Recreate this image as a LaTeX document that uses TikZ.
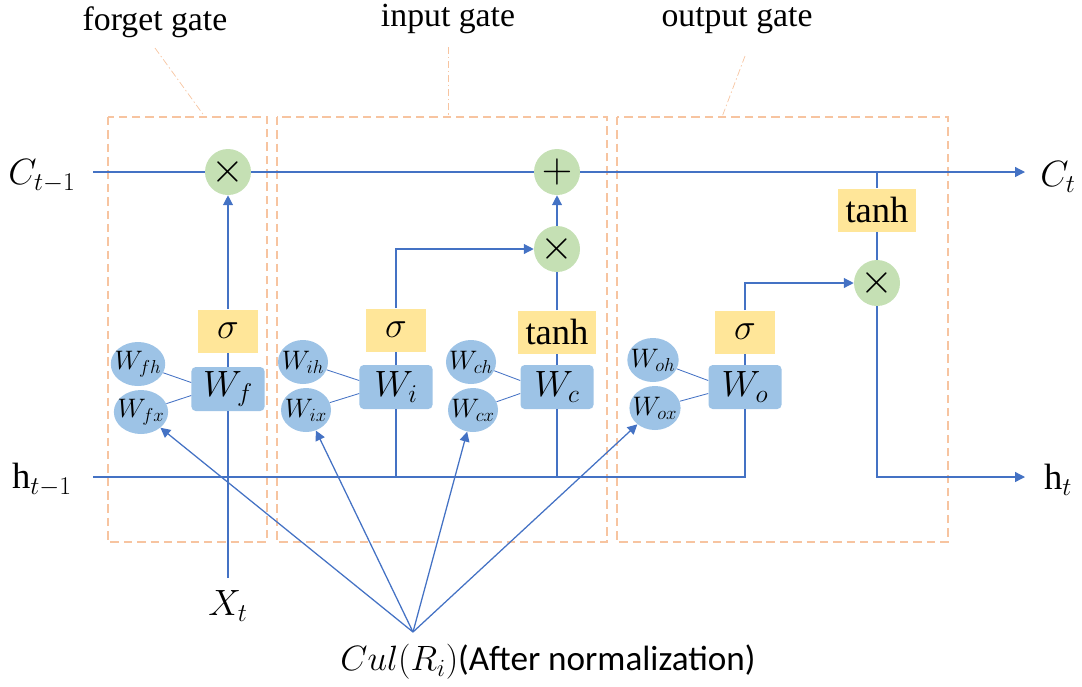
\RequirePackage{fix-cm}
\documentclass[tikz,border=0pt]{standalone}
\usepackage{fontspec}
\setmainfont{Liberation Serif}
\newfontfamily\calibrifont{Carlito}
\usetikzlibrary{arrows.meta,shapes.geometric}
\definecolor{lineblue}{HTML}{4472C4}
\definecolor{gatepeach}{HTML}{F7C4A0}
\definecolor{opgreen}{HTML}{C5E0B4}
\definecolor{actyellow}{HTML}{FFE699}
\definecolor{wblue}{HTML}{9DC3E6}
\tikzset{
  wire/.style={draw=lineblue,line width=0.9pt},
  thinwire/.style={draw=lineblue,line width=0.6pt},
  flow/.style={wire,-{Triangle[length=7pt,width=7pt]}},
  gatebox/.style={draw=gatepeach,line width=1.6pt,dash pattern=on 6pt off 3.5pt},
  leader/.style={draw=gatepeach,line width=0.5pt,dash pattern=on 5pt off 2pt on 1pt off 2pt},
  op/.style={circle,fill=opgreen,inner sep=0pt,minimum size=1.15cm,font=\fontsize{30}{32}\selectfont},
  act/.style={fill=actyellow,inner sep=0pt,minimum width=1.5cm,minimum height=1.075cm,font=\fontsize{26}{28}\selectfont},
  widact/.style={act,minimum width=1.95cm,font=\fontsize{26}{28}\selectfont},
  wbox/.style={fill=wblue,rounded corners=3pt,inner sep=0pt,minimum width=1.825cm,minimum height=1.1cm,font=\fontsize{26}{28}\selectfont},
  wcell/.style={ellipse,fill=wblue,inner sep=-3pt,minimum width=1.25cm,minimum height=1.1cm,font=\fontsize{19}{21}\selectfont},
  lbl/.style={inner sep=1pt,font=\fontsize{24}{28}\selectfont}
}
\begin{document}
\begin{tikzpicture}[x=0.025cm,y=-0.025cm]
    \useasboundingbox (0,0) rectangle (1082,686);
    % gate frames and their captions
    \draw [gatebox] (108,117) rectangle (267,542);
    \draw [gatebox] (277,117) rectangle (607,542);
    \draw [gatebox] (617,117) rectangle (948,542);
    \node [lbl] (fgname) at (155,22) {forget gate};
    \node [lbl] (igname) at (448,19) {input gate};
    \node [lbl] (ogname) at (737,21) {output gate};
    \coordinate (fglead) at (155,48);
    \coordinate (fgtop) at (205,117);
    \coordinate (iglead) at (448,47);
    \coordinate (igtop) at (448,117);
    \coordinate (oglead) at (745,56);
    \coordinate (ogtop) at (722,117);
    \draw [leader] (fglead) -- (fgtop);
    \draw [leader] (iglead) -- (igtop);
    \draw [leader] (oglead) -- (ogtop);
    % states in and out
    \node [lbl,font=\fontsize{26}{28}\selectfont] (cprev) at (42,176) {$C_{t-1}$};
    \node [lbl,font=\fontsize{26}{28}\selectfont] (hprev) at (42,480) {$\mathrm{h}_{t-1}$};
    \node [lbl,font=\fontsize{26}{28}\selectfont] (cnext) at (1058,177) {$C_t$};
    \node [lbl,font=\fontsize{26}{28}\selectfont] (hnext) at (1058,480) {$\mathrm{h}_t$};
    \node [lbl,font=\fontsize{26}{28}\selectfont] (xin) at (228,606) {$X_t$};
    \node [lbl,font=\fontsize{25}{28}\selectfont] (culname) at (548,662) {$Cul(R_i)${\calibrifont(After normalization)}};
    \coordinate (cin) at (93,172);
    \coordinate (cout) at (1025,172);
    \coordinate (hin) at (93,477);
    \coordinate (hout) at (1025,477);
    \coordinate (xt) at (228,578);
    \coordinate (cul) at (413,632);
    % operators
    \node [op] (fmul) at (228,172) {$\times$};
    \node [op] (iadd) at (557,172) {$+$};
    \node [op] (imul) at (557,249) {$\times$};
    \node [op] (omul) at (877,283) {$\times$};
    % activations
    \node [act] (fsig) at (228,331) {$\sigma$};
    \node [act] (isig) at (396,330) {$\sigma$};
    \node [widact] (ctanh) at (557,332) {tanh};
    \node [act] (osig) at (745,332) {$\sigma$};
    \node [widact] (otanh) at (877,210) {tanh};
    % weights
    \node [wbox] (wf) at (228,389) {$W_f$};
    \node [wbox] (wi) at (396,387) {$W_i$};
    \node [wbox] (wc) at (557,387) {$W_c$};
    \node [wbox] (wo) at (745,387) {$W_o$};
    \node [wcell] (wfh) at (138,364) {$W_{fh}$};
    \node [wcell] (wfx) at (141,412) {$W_{fx}$};
    \node [wcell] (wih) at (303,362) {$W_{ih}$};
    \node [wcell] (wix) at (306,410) {$W_{ix}$};
    \node [wcell] (wch) at (471,362) {$W_{ch}$};
    \node [wcell] (wcx) at (473,410) {$W_{cx}$};
    \node [wcell] (woh) at (653,360) {$W_{oh}$};
    \node [wcell] (wox) at (655,408) {$W_{ox}$};
    % cell state line
    \draw [wire] (cin) -- (fmul);
    \draw [wire] (fmul) -- (iadd);
    \draw [flow] (iadd) -- (cout);
    % hidden state line
    \draw [wire] (hin) -| (wo);
    \draw [wire] (wi) -- (wi |- hin);
    \draw [wire] (wc) -- (wc |- hin);
    % forget gate
    \draw [wire] (xt) -- (wf);
    \draw [wire] (wf) -- (fsig);
    \draw [flow] (fsig) -- (fmul);
    \draw [thinwire] (wfh) -- (wf.170);
    \draw [thinwire] (wfx) -- (wf.190);
    % input gate
    \draw [wire] (wi) -- (isig);
    \draw [flow] (isig) |- (imul);
    \draw [wire] (wc) -- (ctanh);
    \draw [wire] (ctanh) -- (imul);
    \draw [flow] (imul) -- (iadd);
    \draw [thinwire] (wih) -- (wi.170);
    \draw [thinwire] (wix) -- (wi.190);
    \draw [thinwire] (wch) -- (wc.170);
    \draw [thinwire] (wcx) -- (wc.190);
    % output gate
    \draw [wire] (wo) -- (osig);
    \draw [flow] (osig) |- (omul);
    \draw [wire] (otanh |- cin) -- (otanh);
    \draw [wire] (otanh) -- (omul);
    \draw [flow] (omul) |- (hout);
    \draw [thinwire] (woh) -- (wo.170);
    \draw [thinwire] (wox) -- (wo.190);
    % normalised input fans out
    \draw [flow] (cul) -- (wfx);
    \draw [flow] (cul) -- (wix);
    \draw [flow] (cul) -- (wcx);
    \draw [flow] (cul) -- (wox);
\end{tikzpicture}
\end{document}
